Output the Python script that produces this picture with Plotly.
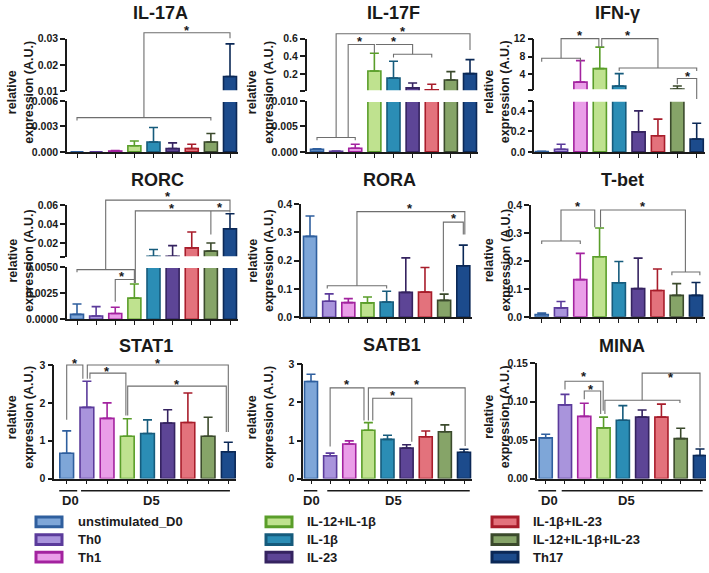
import plotly.graph_objects as go

# ---------------- data ----------------
CATEGORIES = ["unstimulated_D0", "Th0", "Th1", "IL-12+IL-1β", "IL-1β", "IL-23",
              "IL-1β+IL-23", "IL-12+IL-1β+IL-23", "Th17"]
FILL_COLORS = ["#7ea6d8", "#a994dc", "#ea9ee8", "#bfe28f", "#2b8db5", "#5d4596",
               "#e3727c", "#86a468", "#1c4b8c"]
LINE_COLORS = ["#2f5f9e", "#5b3b9b", "#a3239f", "#5a9e2a", "#165b7c", "#352360",
               "#a81d2b", "#3b4a2c", "#0b2856"]

GENES = ["IL-17A", "IL-17F", "IFN-γ", "RORC", "RORA", "T-bet", "STAT1", "SATB1", "MINA"]

IL17A_MEAN = [0.0, 0.0, 0.0001, 0.00072, 0.00117, 0.0004, 0.0004, 0.00117, 0.0156]
IL17A_SD = [0.0, 0.0, 0.00005, 0.00056, 0.0017, 0.00066, 0.0005, 0.001, 0.0124]

IL17F_MEAN = [0.0005, 0.0001, 0.0007, 0.236, 0.156, 0.047, 0.025, 0.135, 0.207]
IL17F_SD = [0.0001, 0.00005, 0.0008, 0.2, 0.19, 0.055, 0.062, 0.094, 0.157]

IFNG_MEAN = [0.003, 0.025, 2.3, 5.3, 1.4, 0.195, 0.157, 0.73, 0.125]
IFNG_SD = [0.002, 0.05, 4.8, 4.8, 2.8, 0.205, 0.163, 0.72, 0.155]

RORC_MEAN = [0.00047, 0.00031, 0.00056, 0.00203, 0.006, 0.006, 0.0149, 0.0115, 0.035]
RORC_SD = [0.001, 0.0009, 0.0006, 0.00135, 0.0072, 0.0113, 0.0167, 0.0085, 0.0158]

RORA_MEAN = [0.286, 0.057, 0.052, 0.051, 0.054, 0.088, 0.089, 0.06, 0.182]
RORA_SD = [0.072, 0.026, 0.014, 0.021, 0.038, 0.122, 0.087, 0.022, 0.073]

TBET_MEAN = [0.008, 0.032, 0.133, 0.215, 0.122, 0.101, 0.094, 0.077, 0.077]
TBET_SD = [0.006, 0.023, 0.094, 0.103, 0.076, 0.109, 0.077, 0.042, 0.046]

STAT1_MEAN = [0.67, 1.88, 1.59, 1.12, 1.19, 1.47, 1.48, 1.12, 0.71]
STAT1_SD = [0.59, 0.69, 0.41, 0.46, 0.36, 0.35, 0.78, 0.5, 0.25]

SATB1_MEAN = [2.55, 0.6, 0.91, 1.27, 1.03, 0.8, 1.1, 1.23, 0.69]
SATB1_SD = [0.19, 0.07, 0.08, 0.2, 0.11, 0.09, 0.15, 0.18, 0.08]

MINA_MEAN = [0.053, 0.096, 0.081, 0.066, 0.076, 0.08, 0.08, 0.052, 0.03]
MINA_SD = [0.0047, 0.0136, 0.017, 0.014, 0.019, 0.0093, 0.017, 0.0136, 0.0085]

# ---------------- layout helpers ----------------
W, H = 709, 573
FONT = "Arial, Liberation Sans, sans-serif"
INK = "#1a1a1a"
BRACKET = "#6e6e6e"


def fx(x):
    return x / W


def fy(y):
    return 1 - y / H


PANELS = [
    dict(mean=IL17A_MEAN, sd=IL17A_SD, xg=(67, 77, 230, 238),
         segs=[dict(rng=[0, 0.006], px=(149, 97), tv=[0, 0.003, 0.006], tt=["0.000", "0.003", "0.006"]),
               dict(rng=[0.01, 0.03], px=(87, 33.3), tv=[0.01, 0.02, 0.03], tt=["0.01", "0.02", "0.03"])],
         title=(160, 7), ylab=(20.5, 88),
         brackets=[[(0, 117), (0, 114), (7, 114), (7, 117)],
                   [(3.5, 114), (3.5, 27.3), (8, 27.3), (8, 33)]],
         stars=[(5.75, 22)]),
    dict(mean=IL17F_MEAN, sd=IL17F_SD, xg=(306.7, 317, 470, 478),
         segs=[dict(rng=[0, 0.010], px=(149, 97), tv=[0, 0.005, 0.010], tt=["0.000", "0.005", "0.010"]),
               dict(rng=[0.01, 0.6], px=(87, 33.3), tv=[0.01, 0.2, 0.4, 0.6], tt=["", "0.2", "0.4", "0.6"])],
         title=(393, 7), ylab=(260.5, 88),
         brackets=[[(0, 137), (0, 134.3), (2, 134.3), (2, 137)],
                   [(1, 134.3), (1, 28.3), (8, 28.3), (8, 45)],
                   [(1.63, 134.3), (1.63, 39.3), (3, 39.3), (3, 48)],
                   [(3.08, 39.3), (5, 39.3), (5, 49.3)],
                   [(4, 52.5), (4, 49.3), (6, 49.3), (6, 52.5)]],
         stars=[(2.25, 33), (4.03, 33), (4.5, 22.7)]),
    dict(mean=IFNG_MEAN, sd=IFNG_SD, xg=(534.3, 541.7, 696.7, 705),
         segs=[dict(rng=[0, 0.5], px=(149, 96.7), tv=[0, 0.2, 0.4, 0.5], tt=["0.0", "0.2", "0.4", ""]),
               dict(rng=[0.5, 12], px=(86, 33.3), tv=[0.5, 4, 8, 12], tt=["", "4", "8", "12"])],
         title=(617, 7), ylab=(497, 88),
         brackets=[[(0, 57), (0, 53.3), (2, 53.3), (2, 57)],
                   [(1, 53.3), (1, 33.3), (2.95, 33.3), (2.95, 42)],
                   [(3.1, 42), (3.1, 33.3), (6, 33.3), (6, 63.3)],
                   [(4, 66.5), (4, 63.3), (8, 63.3), (8, 66.5)],
                   [(7, 80), (7, 74), (8, 74), (8, 95)]],
         stars=[(1.98, 27.3), (4.47, 27.3), (7.54, 69)]),
    dict(mean=RORC_MEAN, sd=RORC_SD, xg=(67, 77, 230, 238),
         segs=[dict(rng=[0, 0.005], px=(320, 266.7), tv=[0, 0.0025, 0.005], tt=["0.0000", "0.0025", "0.0050"]),
               dict(rng=[0.005, 0.06], px=(256.7, 203.3), tv=[0.005, 0.02, 0.04, 0.06], tt=["", "0.02", "0.04", "0.06"])],
         title=(157, 178), ylab=(20.5, 260),
         brackets=[[(0, 272), (0, 269.3), (3, 269.3), (3, 283)],
                   [(2, 302), (2, 279.3), (3, 279.3)],
                   [(1.5, 269.3), (1.5, 198.3), (8, 198.3), (8, 211)],
                   [(3.05, 283), (3.05, 209.3), (8, 209.3)],
                   [(7, 209.3), (7, 233.3)]],
         stars=[(2.37, 273.3), (4.75, 191.7), (4.95, 203.3), (7.5, 202.3)]),
    dict(mean=RORA_MEAN, sd=RORA_SD, xg=(301, 310, 463.3, 472),
         segs=[dict(rng=[0, 0.4], px=(318, 202.3), tv=[0, 0.1, 0.2, 0.3, 0.4], tt=["0.0", "0.1", "0.2", "0.3", "0.4"])],
         title=(389, 178), ylab=(260.5, 260),
         brackets=[[(0.9, 288.5), (0.9, 285.7), (4, 285.7), (4, 288.5)],
                   [(2.45, 285.7), (2.45, 210), (8.08, 210), (8.08, 233.3)],
                   [(6.96, 291.7), (6.96, 220.7), (8, 220.7), (8, 233.3)]],
         stars=[(5.22, 204), (7.49, 214)]),
    dict(mean=TBET_MEAN, sd=TBET_SD, xg=(531, 541.7, 696, 705),
         segs=[dict(rng=[0, 0.4], px=(317.5, 203.3), tv=[0, 0.1, 0.2, 0.3, 0.4], tt=["0.0", "0.1", "0.2", "0.3", "0.4"])],
         title=(622, 178), ylab=(497, 260),
         brackets=[[(0, 243), (0, 240), (2, 240), (2, 243)],
                   [(1, 240), (1, 208.3), (2.75, 208.3), (2.75, 226)],
                   [(3.05, 226), (3.05, 208.3), (7.45, 208.3), (7.45, 271.7)],
                   [(6.75, 275), (6.75, 271.7), (8.2, 271.7), (8.2, 275)]],
         stars=[(1.9, 201.7), (5.23, 201.7)]),
    dict(mean=STAT1_MEAN, sd=STAT1_SD, xg=(54.3, 66.7, 228.3, 236),
         segs=[dict(rng=[0, 3], px=(482.7, 366.7), tv=[0, 1, 2, 3], tt=["0", "1", "2", "3"])],
         title=(146, 347), ylab=(20.5, 420),
         brackets=[[(0, 422.7), (0, 366.7), (0.8, 366.7), (0.8, 380.7)],
                   [(1.02, 380.7), (1.02, 366.7), (8, 366.7), (8, 435)],
                   [(1.15, 380.7), (1.15, 375), (2.93, 375), (2.93, 418.3)],
                   [(3.02, 418.3), (3.02, 388.3), (7.9, 388.3), (7.9, 435)]],
         stars=[(0.41, 361.7), (4.53, 361.7), (2.01, 370), (5.45, 383.3)],
         groups=[(-0.37, 0.52, 0.2), (0.71, 8.08, 4.2)]),
    dict(mean=SATB1_MEAN, sd=SATB1_SD, xg=(303.3, 311, 464, 472),
         segs=[dict(rng=[0, 3], px=(482.7, 366), tv=[0, 1, 2, 3], tt=["0", "1", "2", "3"])],
         title=(392, 346), ylab=(260.5, 420),
         brackets=[[(1, 450), (1, 390), (2.77, 390), (2.77, 423.3)],
                   [(3.0, 423.3), (3.0, 390), (8.06, 390), (8.06, 449.3)],
                   [(3.23, 423.3), (3.23, 400.7), (5.27, 400.7), (5.27, 445)]],
         stars=[(1.9, 384), (5.53, 384), (4.27, 394.3)],
         groups=[(-0.37, 0.33, 0.0), (0.85, 8.3, 4.3)]),
    dict(mean=MINA_MEAN, sd=MINA_SD, xg=(536.7, 545.7, 700, 706),
         segs=[dict(rng=[0, 0.15], px=(482.7, 365), tv=[0, 0.05, 0.10, 0.15], tt=["0.00", "0.05", "0.10", "0.15"])],
         title=(622, 347), ylab=(497, 420),
         brackets=[[(1, 391.7), (1, 383.3), (2.98, 383.3), (2.98, 413.3)],
                   [(2, 401.7), (2, 393.3), (2.85, 393.3), (2.85, 416.7)],
                   [(3.07, 416.7), (3.07, 402.7), (6.96, 402.7), (6.96, 405.5)],
                   [(5, 402.7), (5, 375), (8, 375), (8, 450.7)]],
         stars=[(1.99, 375.7), (2.33, 388.3), (6.5, 376.7)],
         groups=[(-0.38, 0.54, 0.19), (0.83, 8.14, 4.2)]),
]

fig = go.Figure()
layout = dict(
    width=W, height=H, margin=dict(l=0, r=0, t=0, b=0),
    paper_bgcolor="white", plot_bgcolor="rgba(0,0,0,0)",
    barmode="overlay", showlegend=False,
    font=dict(family=FONT, color=INK),
)
gap_shapes, shapes, annotations = [], [], []
yidx = 0
positions = list(range(len(CATEGORIES)))

for p, (gene, P) in enumerate(zip(GENES, PANELS)):
    xname = "x" if p == 0 else f"x{p + 1}"
    xkey = "xaxis" if p == 0 else f"xaxis{p + 1}"
    axis_px, c0, c8, end_px = P["xg"]
    sp = (c8 - c0) / 8.0
    xr = [-(c0 - axis_px) / sp, 8 + (end_px - c8) / sp]
    ynames = []
    for s, seg in enumerate(P["segs"]):
        yidx += 1
        yname = "y" if yidx == 1 else f"y{yidx}"
        ykey = "yaxis" if yidx == 1 else f"yaxis{yidx}"
        ynames.append(yname)
        bot, top = seg["px"]
        layout[ykey] = dict(
            domain=[fy(bot), fy(top)], range=seg["rng"], anchor=xname,
            showline=True, linecolor=INK, linewidth=1.5,
            ticks="outside", ticklen=5, tickwidth=1.5, tickcolor=INK,
            tickvals=seg["tv"], ticktext=seg["tt"],
            tickfont=dict(family=FONT, size=10.5, color=INK, weight="bold"),
            showgrid=False, zeroline=False, fixedrange=True,
        )
        lo = seg["rng"][0]
        for i in positions:
            err = P["sd"][i]
            # a segment only shows the bars that reach into its value range
            if s > 0 and P["mean"][i] + err <= lo:
                continue
            fig.add_trace(go.Bar(
                x=[i], y=[P["mean"][i]], width=0.68, name=CATEGORIES[i],
                marker=dict(color=FILL_COLORS[i], line=dict(color=LINE_COLORS[i], width=1.6)),
                error_y=dict(type="data", symmetric=False, array=[err], arrayminus=[0],
                             color=LINE_COLORS[i], thickness=1.6, width=4.5, visible=err > 0),
                xaxis=xname, yaxis=yname, showlegend=False, hoverinfo="skip",
            ))
    # white band over the axis break (drawn first, under the brackets)
    if len(P["segs"]) > 1:
        gap_bot = P["segs"][0]["px"][1]
        gap_top = P["segs"][1]["px"][0]
        gap_shapes.append(dict(type="rect", xref="paper", yref="paper",
                               x0=fx(axis_px + 1.5), x1=fx(end_px), y0=fy(gap_bot + 1.0), y1=fy(gap_top - 1.0),
                               fillcolor="white", line=dict(width=0), layer="above"))
    layout[xkey] = dict(
        domain=[fx(axis_px), fx(end_px)], range=xr, anchor=ynames[0],
        showline=True, linecolor=INK, linewidth=1.5,
        ticks="outside", ticklen=4, tickwidth=1.2, tickcolor=INK,
        tickvals=positions, showticklabels=False,
        showgrid=False, zeroline=False, fixedrange=True,
    )
    # title
    tx, ty = P["title"]
    annotations.append(dict(text=gene, x=fx(tx), y=fy(ty), xref="paper", yref="paper",
                            showarrow=False, xanchor="center", yanchor="middle",
                            font=dict(family=FONT, size=18, color=INK, weight="bold")))
    lx, ly = P["ylab"]
    annotations.append(dict(text="relative<br>expression (A.U.)", x=fx(lx), y=fy(ly),
                            xref="paper", yref="paper", showarrow=False, textangle=-90,
                            xanchor="center", yanchor="middle",
                            font=dict(family=FONT, size=12.5, color=INK, weight="bold")))
    # significance brackets
    for br in P["brackets"]:
        path = "M " + " L ".join(f"{x},{fy(y)}" for x, y in br)
        shapes.append(dict(type="path", path=path, xref=xname, yref="paper",
                           line=dict(color=BRACKET, width=1.1)))
    for sx, sy in P["stars"]:
        annotations.append(dict(text="*", x=sx, y=fy(sy), xref=xname, yref="paper",
                                showarrow=False, xanchor="center", yanchor="middle", yshift=-3,
                                font=dict(family=FONT, size=13, color=INK, weight="bold")))
    # D0 / D5 group lines
    for k, (g0, g1, gl) in enumerate(P.get("groups", [])):
        shapes.append(dict(type="line", x0=g0, x1=g1, y0=fy(495), y1=fy(495),
                           xref=xname, yref="paper", line=dict(color=INK, width=1.5)))
        annotations.append(dict(text=["D0", "D5"][k], x=gl, y=fy(505), xref=xname, yref="paper",
                                showarrow=False, xanchor="center", yanchor="middle",
                                font=dict(family=FONT, size=13, color=INK, weight="bold")))

# legend (3 columns)
LEG_COLS = [(36, 76), (266, 305), (492, 531)]
LEG_ROWS = [527, 545, 563]
for i, name in enumerate(CATEGORIES):
    sx, tx = LEG_COLS[i // 3]
    ry = LEG_ROWS[i % 3]
    shapes.append(dict(type="rect", xref="paper", yref="paper",
                       x0=fx(sx), x1=fx(sx + 26), y0=fy(ry + 5), y1=fy(ry - 5),
                       fillcolor=FILL_COLORS[i], line=dict(color=LINE_COLORS[i], width=3)))
    annotations.append(dict(text=name, x=fx(tx), y=fy(ry), xref="paper", yref="paper",
                            showarrow=False, xanchor="left", yanchor="middle",
                            font=dict(family=FONT, size=13, color=INK, weight="bold")))

layout["shapes"] = gap_shapes + shapes
layout["annotations"] = annotations
fig.update_layout(**layout)
fig.write_html("out.html", config={"displayModeBar": False, "staticPlot": False},
               post_script="document.body.style.margin='0px';document.body.style.overflow='hidden';")
